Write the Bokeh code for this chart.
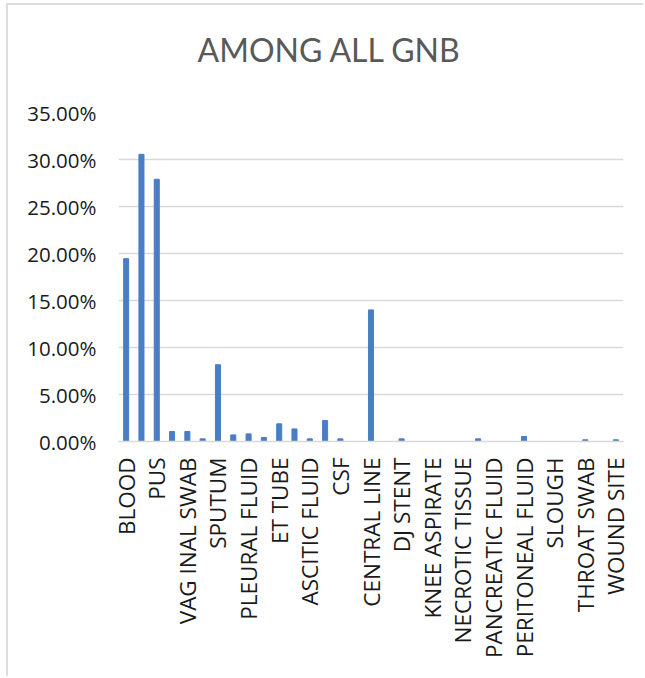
from bokeh.plotting import figure
from bokeh.models import Range1d, FixedTicker, Title
from bokeh.embed import file_html
from bokeh.resources import INLINE
import math

# Specimen types (share of all GNB isolates, %)
categories = [
    "BLOOD", "URINE", "PUS", "TISSUE", "VAG INAL SWAB", "CATHETER TIP",
    "SPUTUM", "BAL", "PLEURAL FLUID", "BILE", "ET TUBE", "WOUND SWAB",
    "ASCITIC FLUID", "TRACHEAL ASPIRATE", "CSF", "SYNOVIAL FLUID",
    "CENTRAL LINE", "DRAIN FLUID", "DJ STENT", "EAR SWAB", "KNEE ASPIRATE",
    "NASAL SWAB", "NECROTIC TISSUE", "BONE", "PANCREATIC FLUID", "CVP TIP",
    "PERITONEAL FLUID", "SEMEN", "SLOUGH", "STOOL", "THROAT SWAB",
    "URETHRAL SWAB", "WOUND SITE",
]
values = [
    19.45, 30.55, 27.90, 1.06, 1.06, 0.28,
    8.17, 0.70, 0.81, 0.42, 1.88, 1.34,
    0.28, 2.23, 0.28, 0.0,
    14.00, 0.0, 0.28, 0.0, 0.0,
    0.0, 0.0, 0.28, 0.0, 0.0,
    0.53, 0.0, 0.0, 0.0, 0.18,
    0.0, 0.18,
]
y_ticks = [0, 5, 10, 15, 20, 25, 30, 35]
y_tick_labels = ["0.00%", "5.00%", "10.00%", "15.00%", "20.00%", "25.00%", "30.00%", "35.00%"]
chart_title = "AMONG ALL GNB"

FONT = "Open Sans"
TITLE_FONT = "Lato"
BAR = "#4A7EC4"
GRID = "#d9d9d9"

idx = list(range(len(categories)))
shown = idx[::2]  # every second specimen name is printed on the axis

p = figure(
    width=637, height=673, output_backend="svg", toolbar_location=None,
    x_range=Range1d(-0.5, len(categories) - 0.5), y_range=Range1d(0, 35),
    min_border_left=110, min_border_right=22, min_border_top=107, min_border_bottom=237,
    margin=(3, 0, 0, 6),
)
p.styles = {"border-left": "2px solid #dddddd", "border-top": "2px solid #dddddd"}
p.outline_line_color = None

p.vbar(x=idx, top=values, width=0.33, color=BAR)

# blank gap between the plot area and the title, then the title itself
p.add_layout(Title(text=" ", text_font_size="1px", standoff=41), "above")
p.add_layout(Title(text=chart_title, align="left", offset=79, standoff=0,
                   text_font=TITLE_FONT, text_font_size="32px",
                   text_font_style="normal", text_color="#595959"), "above")
p.title.visible = False

# y axis
p.yaxis.ticker = FixedTicker(ticks=y_ticks)
p.yaxis.major_label_overrides = {t: lab for t, lab in zip(y_ticks, y_tick_labels)}
p.yaxis.axis_line_color = None
p.yaxis.major_tick_line_color = None
p.yaxis.minor_tick_line_color = None
p.yaxis.major_label_standoff = 16
p.yaxis.major_label_text_font = FONT
p.yaxis.major_label_text_font_size = "20.5px"
p.yaxis.major_label_text_color = "#1a1a1a"

# x axis
p.xaxis.ticker = FixedTicker(ticks=shown)
p.xaxis.major_label_overrides = {i: categories[i] for i in shown}
p.xaxis.major_label_orientation = math.pi / 2
p.xaxis.axis_line_color = GRID
p.xaxis.axis_line_width = 1.5
p.xaxis.major_tick_line_color = None
p.xaxis.minor_tick_line_color = None
p.xaxis.major_label_standoff = 10
p.xaxis.major_label_text_font = FONT
p.xaxis.major_label_text_font_size = "22.5px"
p.xaxis.major_label_text_color = "#1a1a1a"

p.xgrid.grid_line_color = None
p.ygrid.ticker = FixedTicker(ticks=y_ticks)
p.ygrid.grid_line_color = GRID
p.ygrid.grid_line_width = 1.5

open("out.html", "w").write(file_html(p, INLINE))
